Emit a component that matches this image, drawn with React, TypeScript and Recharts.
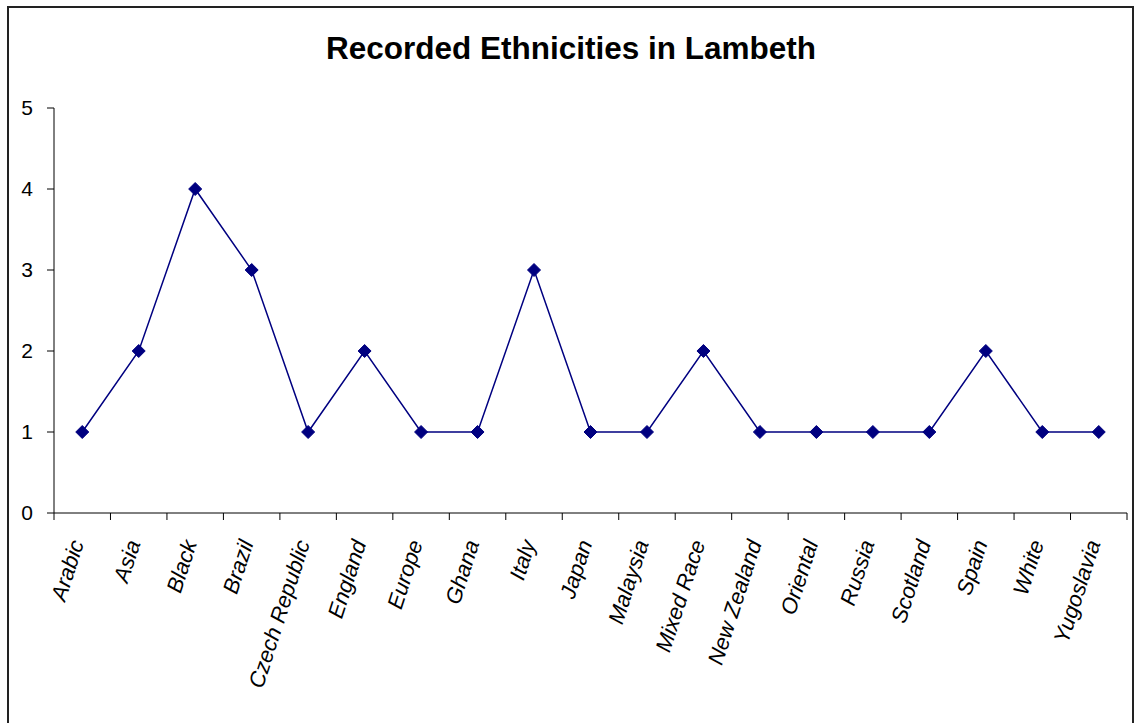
import React from "react";
import { LineChart, Line, XAxis, YAxis } from "recharts";

const categories = [
  "Arabic", "Asia", "Black", "Brazil", "Czech Republic", "England", "Europe",
  "Ghana", "Italy", "Japan", "Malaysia", "Mixed Race", "New Zealand",
  "Oriental", "Russia", "Scotland", "Spain", "White", "Yugoslavia",
];
const counts = [1, 2, 4, 3, 1, 2, 1, 1, 3, 1, 1, 2, 1, 1, 1, 1, 2, 1, 1];
const yTicks = [0, 1, 2, 3, 4, 5];

const data = categories.map((name, i) => ({ name, count: counts[i] }));

const NAVY = "#000080";
const FONT = "'Liberation Sans', Arial, sans-serif";

function Diamond(props: any) {
  const { cx, cy } = props;
  if (cx == null || cy == null) return null;
  const r = 6.5;
  return (
    <path
      d={`M${cx},${cy - r}L${cx + r},${cy}L${cx},${cy + r}L${cx - r},${cy}Z`}
      fill={NAVY}
      stroke={NAVY}
    />
  );
}

// category labels sit between tick marks drawn at band edges
function CategoryTick(props: any) {
  const { x, y, payload, index } = props;
  const half = payload?.offset || 28.2;
  const last = index === categories.length - 1;
  const tx = x + 2;
  const ty = y + 30;
  return (
    <g>
      <line x1={x - half} y1={y} x2={x - half} y2={y + 7} stroke="#000" />
      {last && <line x1={x + half} y1={y} x2={x + half} y2={y + 7} stroke="#000" />}
      <text
        x={tx}
        y={ty}
        transform={`rotate(-72, ${tx}, ${ty})`}
        textAnchor="end"
        fontSize={22}
        fontStyle="italic"
        fontFamily={FONT}
        fill="#000"
      >
        {payload.value}
      </text>
    </g>
  );
}

export default function App() {
  return (
    <div style={{ position: "fixed", left: 0, top: 0, width: 1136, height: 723, overflow: "hidden", background: "#fff" }}>
      <div
        style={{
          position: "absolute",
          left: 7,
          top: 6,
          width: 1123,
          height: 730,
          border: "2px solid #222",
        }}
      />
      <div
        style={{
          position: "absolute",
          left: 0,
          top: 33,
          width: 1142,
          textAlign: "center",
          fontFamily: FONT,
          fontWeight: "bold",
          fontSize: 31.5,
          lineHeight: "31px",
          color: "#000",
        }}
      >
        Recorded Ethnicities in Lambeth
      </div>
      <div style={{ position: "absolute", left: 0, top: 0 }}>
        <LineChart
          width={1136}
          height={723}
          data={data}
          margin={{ top: 108, right: 9, bottom: 0, left: 0 }}
        >
          <XAxis
            dataKey="name"
            scale="band"
            interval={0}
            height={210}
            tickLine={false}
            tickSize={0}
            tickMargin={0}
            axisLine={{ stroke: "#000" }}
            tick={<CategoryTick />}
          />
          <YAxis
            width={54}
            domain={[0, 5]}
            ticks={yTicks}
            interval={0}
            tickSize={7}
            tickMargin={14}
            axisLine={{ stroke: "#000" }}
            tickLine={{ stroke: "#000" }}
            tick={{ fontSize: 21, fill: "#000", fontFamily: FONT }}
          />
          <Line
            type="linear"
            dataKey="count"
            stroke={NAVY}
            strokeWidth={1.5}
            dot={<Diamond />}
            activeDot={false}
            isAnimationActive={false}
          />
        </LineChart>
      </div>
    </div>
  );
}
